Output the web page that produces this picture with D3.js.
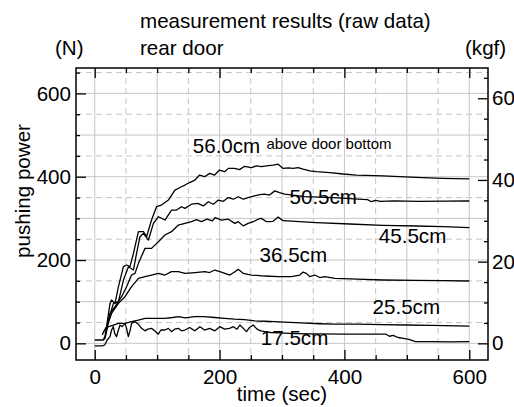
<!DOCTYPE html>
<html>
<head>
<meta charset="utf-8">
<script src="https://cdn.jsdelivr.net/npm/d3@7/dist/d3.min.js"></script>
<style>
  body { margin: 0; background: #fff; }
  svg text { font-family: "Liberation Sans", Arial, sans-serif; fill: #000; }
</style>
</head>
<body>
<script>
// time axis (sec) and force axis (N / kgf)
var timeTicks = [0, 200, 400, 600];
var timeMinor = [50, 100, 150, 250, 300, 350, 450, 500, 550];
var forceTicks = [0, 200, 400, 600];
var forceMinor = [50, 100, 150, 250, 300, 350, 450, 500, 550, 650];
var kgfTicks = [0, 20, 40, 60];
var kgfMinor = [5, 10, 15, 25, 30, 35, 45, 50, 55, 65];

// measured curves: [time (sec), pushing power (N)]
var h560 = [[12,20],[15,30],[19,40],[24.5,96],[27,104],[32.5,96],[38,136],[46,184],[51,188],[56.5,184],
  [62,216],[70,268],[78,268],[83,256],[91,296],[99,328],[107,332],[118,344],[128.5,368],[139,376],
  [144.5,380],[152,386],[160.5,392],[168,404],[176,400],[184,408],[192,404],[200,416],[208,412],
  [214,420],[224,420],[232,417],[240,425],[251,422],[259,426],[267,424],[275,426],[285.8,428],
  [293.8,430],[301.8,420],[310,421],[317.8,420],[325.8,422],[333.8,418],[344.5,414],[355,412],
  [376.5,410],[397.8,406.5],[419,404],[461.8,401.8],[515,398.6],[557.8,396.2],[600,394.6]];

var h505 = [[16.5,16],[20,40],[22,56],[30,96],[38,100],[46,152],[54,184],[62,176],[67,216],[72.5,256],
  [78,264],[86,248],[94,288],[102,304],[112.5,296],[123,320],[131,320],[139,328],[144.5,324],
  [155,334],[165,336],[174,330],[182,340],[190,334],[198,344],[206,341],[214,350],[222,346],
  [229.8,352],[238,346],[248.5,351],[256,354],[264.5,357],[272,358],[280,356],[288.5,366],
  [296,362],[304.5,358],[320.5,355],[336.5,352],[360,351],[390,349],[421.8,346],[437,345],
  [443,340],[450,343],[458,341],[480,342],[520,341],[560,341.5],[600,341.7]];

var h455 = [[14,10],[16.5,16],[24.5,72],[32.5,88],[43,112],[51,136],[59,164],[64.5,168],[70,192],
  [80.5,228],[91,228],[102,244],[112.5,260],[123,268],[134,284],[144.5,288],[155,292],[163,297],
  [171,292],[180,298],[188.5,294],[193,302],[203,296],[214,298],[224.5,288],[230,292],[237.8,282],
  [245.8,288],[254,292],[261.8,298],[267,300],[275.2,292],[285.8,293],[293.8,303],[301.8,294.5],
  [328.5,292],[355,289.8],[408.5,286.5],[461.8,283.3],[515,281.7],[557.8,280],[600,277.7]];

var h365 = [[16.5,24],[22,50],[27,72],[38,96],[48.5,112],[59,136],[70,156],[80.5,160],[91,164],
  [102,168],[112.5,164],[123,172],[134,172],[144.5,168],[160.5,170],[176.5,172],[184,170],
  [192.5,176],[200.5,172],[208.5,168],[216.5,164],[224.5,172],[229.8,177.6],[237.8,168],
  [251,164],[272.5,161.6],[293.8,160],[315,160],[328.5,164],[333.8,171],[339,168],[344.5,160],
  [352.5,164],[360.5,158],[368.5,160],[384.5,156],[420,154],[461.8,152],[515,151],[557.8,150.5],
  [600,149.7]];

var h255 = [[0,8],[8,8],[14,8],[16.5,12],[20,36],[22,40],[30,44],[38,48],[48.5,48],[59,52],[70,56],
  [80.5,60],[95,60],[112.5,60],[125,62],[134,64],[145,61],[160,64],[176,64],[192,62],[208,60],
  [224,58],[240,57],[256,54],[272,53],[288,52],[304,51],[330,49],[360,47],[384,46],[420,46],
  [460,45],[500,44],[540,43],[580,42],[600,41.5]];

var h175 = [[0,-6],[12,-6],[16,-4],[20,8],[24.5,16],[27,32],[29.8,40],[32,24],[35,16],[38,32],
  [40.5,44],[44,40],[48.5,48],[51,36],[53.8,16],[56.5,30],[59,48],[64.5,52],[69.8,46],[75,36],
  [80.5,30],[85,34],[91,36],[96,30],[101.8,22],[106,32],[112.5,32],[118,36],[123,28],[128,34],
  [133.8,36],[139,30],[144.5,32],[152,38],[160.5,30],[168.5,40],[176,32],[184,36],[192.5,30],
  [200.5,40],[208,34],[216,36],[222,40],[228,34],[232.5,44],[238,36],[243,28],[248,38],
  [253.9,44],[260,34],[266,30],[272,28],[282,26],[296.5,25],[320,23.5],[350,22.5],[400,22.3],
  [440,22.3],[466,22.3],[472,17],[478,19],[486,14],[494,12],[502,10],[508,7],[514,4],[540,4],
  [570,3.5],[600,4]];

var curves = [h560, h505, h455, h365, h255, h175];

// curve labels, anchored in data units [time, N]
var curveLabels = ["56.0cm", "50.5cm", "45.5cm", "36.5cm", "25.5cm", "17.5cm"];
var labelSpots = [[157, 457], [312, 334], [455, 240], [264, 196], [445, 70], [266, -5]];

(function(){
    var width = 514,
        height = 407;
    var left = 76, right = 488, top = 68, bottom = 360;
    var fs = 20.6;

    var svg = d3.select("body").append("svg")
                .attr("width", width)
                .attr("height", height);

    var x = d3.scaleLinear().domain([-30, 630]).range([left, right]);
    var y = d3.scaleLinear().domain([-40, 661]).range([bottom, top]);
    var yk = d3.scaleLinear().domain([-40 / 9.80665, 661 / 9.80665]).range([bottom, top]);

    // grid
    var grid = svg.append("g");
    d3.range(0, 601, 50).forEach(function(t){
        grid.append("line")
            .attr("x1", x(t)).attr("x2", x(t))
            .attr("y1", top).attr("y2", bottom)
            .attr("stroke", "#c6c6c6")
            .attr("stroke-width", 1)
            .attr("stroke-dasharray", t % 100 ? "6,4" : null);
    });
    d3.range(0, 651, 50).forEach(function(n){
        grid.append("line")
            .attr("x1", left).attr("x2", right)
            .attr("y1", y(n)).attr("y2", y(n))
            .attr("stroke", "#c6c6c6")
            .attr("stroke-width", 1)
            .attr("stroke-dasharray", n % 100 ? "6,4" : null);
    });

    function styleAxis(g){
        g.select(".domain").remove();
        g.selectAll("line").attr("stroke", "#000").attr("stroke-width", 1.3);
        g.attr("font-family", null).attr("font-size", fs);
    }

    // left (N)
    svg.append("g").attr("transform", "translate(" + left + ",0)")
        .call(d3.axisLeft(y).tickValues(forceTicks).tickSize(-10).tickPadding(5))
        .call(styleAxis);
    svg.append("g").attr("transform", "translate(" + left + ",0)")
        .call(d3.axisLeft(y).tickValues(forceMinor).tickSize(-4).tickFormat(""))
        .call(styleAxis);

    // right (kgf)
    svg.append("g").attr("transform", "translate(" + right + ",0)")
        .call(d3.axisRight(yk).tickValues(kgfTicks).tickSize(-10).tickPadding(4))
        .call(styleAxis);
    svg.append("g").attr("transform", "translate(" + right + ",0)")
        .call(d3.axisRight(yk).tickValues(kgfMinor).tickSize(-4).tickFormat(""))
        .call(styleAxis);

    // bottom (sec)
    svg.append("g").attr("transform", "translate(0," + bottom + ")")
        .call(d3.axisBottom(x).tickValues(timeTicks).tickSize(-10).tickPadding(9))
        .call(styleAxis);
    svg.append("g").attr("transform", "translate(0," + bottom + ")")
        .call(d3.axisBottom(x).tickValues(timeMinor).tickSize(-5).tickFormat(""))
        .call(styleAxis);

    // top
    svg.append("g").attr("transform", "translate(0," + top + ")")
        .call(d3.axisTop(x).tickValues(timeTicks).tickSize(-10).tickFormat(""))
        .call(styleAxis);
    svg.append("g").attr("transform", "translate(0," + top + ")")
        .call(d3.axisTop(x).tickValues(timeMinor).tickSize(-5).tickFormat(""))
        .call(styleAxis);

    // curves
    var line = d3.line()
                 .x(function(d){ return x(d[0]); })
                 .y(function(d){ return y(d[1]); });

    svg.append("g").selectAll("path")
        .data(curves)
        .enter().append("path")
        .attr("d", line)
        .attr("fill", "none")
        .attr("stroke", "#000")
        .attr("stroke-width", 1.3)
        .attr("stroke-linejoin", "round");

    // curve labels
    svg.append("g").selectAll("text")
        .data(curveLabels)
        .enter().append("text")
        .attr("x", function(d, i){ return x(labelSpots[i][0]); })
        .attr("y", function(d, i){ return y(labelSpots[i][1]); })
        .attr("font-size", fs)
        .text(function(d){ return d; });

    svg.append("text")
        .attr("x", x(275))
        .attr("y", y(467))
        .attr("font-size", 15)
        .text("above door bottom");

    // frame
    svg.append("rect")
        .attr("x", left).attr("y", top)
        .attr("width", right - left).attr("height", bottom - top)
        .attr("fill", "none")
        .attr("stroke", "#000")
        .attr("stroke-width", 1.5);

    // titles
    svg.append("text").attr("x", 140).attr("y", 28).attr("font-size", fs)
        .text("measurement results (raw data)");
    svg.append("text").attr("x", 140).attr("y", 55).attr("font-size", fs)
        .text("rear door");
    svg.append("text").attr("x", 55).attr("y", 55).attr("font-size", fs)
        .text("(N)");
    svg.append("text").attr("x", 465).attr("y", 55).attr("font-size", fs)
        .text("(kgf)");
    svg.append("text").attr("x", (left + right) / 2).attr("y", 401)
        .attr("text-anchor", "middle").attr("font-size", fs)
        .text("time (sec)");
    svg.append("text")
        .attr("transform", "translate(30,191) rotate(-90)")
        .attr("text-anchor", "middle").attr("font-size", fs)
        .text("pushing power");
})();
</script>
</body>
</html>
